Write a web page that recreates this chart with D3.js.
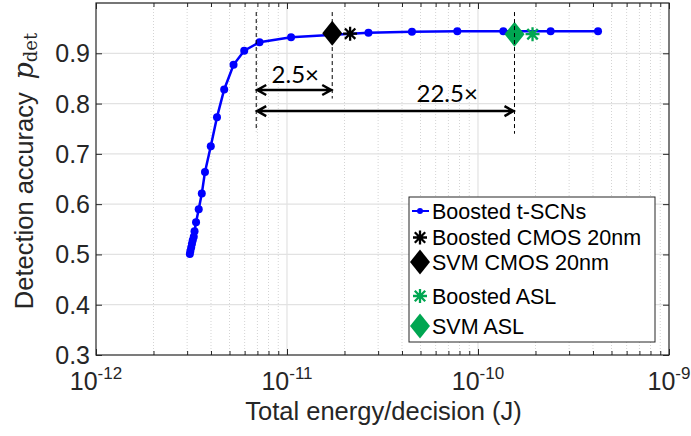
<!DOCTYPE html>
<html>
<head>
<meta charset="utf-8">
<script src="https://cdn.jsdelivr.net/npm/d3@7"></script>
<style>
  body { margin: 0; background: #fff; }
  svg text { font-family: "Liberation Sans", Arial, Helvetica, sans-serif; fill: #262626; }
</style>
</head>
<body>
<svg id="grafico" width="691" height="436"></svg>
<script>
// Curva Boosted t-SCNs: energia por decisão (J) e acurácia
const energiaTscn = [3.10e-12, 3.12e-12, 3.15e-12, 3.18e-12, 3.21e-12, 3.25e-12, 3.28e-12, 3.34e-12,
  3.45e-12, 3.58e-12, 3.72e-12, 3.99e-12, 4.30e-12, 4.69e-12, 5.25e-12, 5.97e-12, 7.18e-12,
  1.05e-11, 2.67e-11, 4.51e-11, 7.79e-11, 1.357e-10, 2.40e-10, 4.25e-10];
const acuraciaTscn = [0.501, 0.507, 0.514, 0.521, 0.528, 0.535, 0.546, 0.564,
  0.590, 0.621, 0.664, 0.715, 0.773, 0.828, 0.877, 0.905, 0.922,
  0.932, 0.941, 0.943, 0.944, 0.944, 0.944, 0.944];

// Pontos isolados (CMOS e ASL)
const nomesMarcadores = ["Boosted CMOS 20nm", "SVM CMOS 20nm", "Boosted ASL", "SVM ASL"];
const energiaMarcadores = [2.14e-11, 1.725e-11, 1.93e-10, 1.5525e-10];
const acuraciaMarcadores = [0.939, 0.940, 0.938, 0.938];

// Anotações de ganho
const energiaBase = 6.9e-12;
const fatoresGanho = [2.5, 22.5];
const rotulosGanho = ["2.5\u00d7", "22.5\u00d7"];
const acuraciaSetas = [0.827, 0.785];
const energiaRotulos = [1.105e-11, 6.9e-11];
const acuraciaRotulos = [0.841, 0.803];
const topoTracejado = 0.982;
const baseTracejado = [0.745, 0.81, 0.74];

// Eixos
const ticksY = [0.3, 0.4, 0.5, 0.6, 0.7, 0.8, 0.9];
const decadasX = [1e-12, 1e-11, 1e-10, 1e-9];
const expoentesX = ["-12", "-11", "-10", "-9"];

const esq = 96, dir = 669, topo = 3, base = 355;
const svg = d3.select("#grafico");

const x = d3.scaleLog().domain([1e-12, 1e-9]).range([esq, dir]);
const y = d3.scaleLinear().domain([0.3, 1.0]).range([base, topo]);

// ticks menores do eixo log
const menoresX = [];
decadasX.slice(0, -1).forEach(d => { for (let k = 2; k <= 9; k++) menoresX.push(d * k); });

// grade
const grade = svg.append("g");
grade.selectAll(".gmin").data(menoresX).join("line")
  .attr("x1", d => x(d)).attr("x2", d => x(d)).attr("y1", topo).attr("y2", base)
  .attr("stroke", "#d4d4d4").attr("stroke-width", 1).attr("stroke-dasharray", "1,2");
grade.selectAll(".gx").data(decadasX.slice(1, -1)).join("line")
  .attr("x1", d => x(d)).attr("x2", d => x(d)).attr("y1", topo).attr("y2", base)
  .attr("stroke", "#e2e2e2").attr("stroke-width", 1.2);
grade.selectAll(".gy").data(ticksY.slice(1).concat([1.0])).join("line")
  .attr("x1", esq).attr("x2", dir).attr("y1", d => y(d)).attr("y2", d => y(d))
  .attr("stroke", "#e2e2e2").attr("stroke-width", 1.2);

// eixos com ticks para dentro
svg.append("g").attr("transform", `translate(0,${base})`)
  .call(d3.axisBottom(x).tickValues(decadasX).tickSize(-6).tickFormat(""));
svg.append("g").attr("transform", `translate(0,${base})`)
  .call(d3.axisBottom(x).tickValues(menoresX).tickSize(-4).tickFormat(""));
svg.append("g").attr("transform", `translate(0,${topo})`)
  .call(d3.axisTop(x).tickValues(decadasX).tickSize(-6).tickFormat(""));
svg.append("g").attr("transform", `translate(0,${topo})`)
  .call(d3.axisTop(x).tickValues(menoresX).tickSize(-4).tickFormat(""));
svg.append("g").attr("transform", `translate(${esq},0)`)
  .call(d3.axisLeft(y).tickValues(ticksY).tickSize(-6).tickFormat(""));
svg.append("g").attr("transform", `translate(${dir},0)`)
  .call(d3.axisRight(y).tickValues(ticksY).tickSize(-6).tickFormat(""));
svg.selectAll(".domain").remove();
svg.selectAll(".tick line").attr("stroke", "#262626");

svg.append("rect").attr("x", esq).attr("y", topo)
  .attr("width", dir - esq).attr("height", base - topo)
  .attr("fill", "none").attr("stroke", "#262626").attr("stroke-width", 1.2);

// rótulos dos ticks
svg.selectAll(".ly").data(ticksY).join("text")
  .attr("x", esq - 6).attr("y", d => y(d)).attr("dy", "0.36em")
  .attr("text-anchor", "end").attr("font-size", 25)
  .text(d => d.toFixed(1));

const rotX = svg.selectAll(".lx").data(decadasX).join("text")
  .attr("x", d => x(d)).attr("y", 390).attr("text-anchor", "middle").attr("font-size", 25);
rotX.append("tspan").text("10");
rotX.append("tspan").attr("font-size", 17).attr("dy", -11).text((d, i) => expoentesX[i]);

svg.append("text").attr("x", (esq + dir) / 2 + 1).attr("y", 420)
  .attr("text-anchor", "middle").attr("font-size", 25.5)
  .text("Total energy/decision (J)");

const rotY = svg.append("text")
  .attr("transform", "translate(33,171) rotate(-90)")
  .attr("text-anchor", "middle").attr("font-size", 25.5);
rotY.append("tspan").text("Detection accuracy\u2002");
rotY.append("tspan").attr("font-family", "DejaVu Serif").attr("font-style", "italic").attr("font-size", 27).text("p");
rotY.append("tspan").attr("font-family", "DejaVu Serif").attr("font-size", 18).attr("dy", 4).text("det");

// formas dos marcadores
function diamante(g, cor) {
  g.append("path").attr("d", "M0,-12.5L10,0L0,12.5L-10,0Z").attr("fill", cor);
}
function asterisco(g, cor) {
  const r = 7, dd = 5.2;
  g.append("path")
    .attr("d", `M0,${-r}V${r}M${-r},0H${r}M${-dd},${-dd}L${dd},${dd}M${-dd},${dd}L${dd},${-dd}`)
    .attr("stroke", cor).attr("stroke-width", 2.3).attr("fill", "none");
}
const formas = [asterisco, diamante, asterisco, diamante];
const cores = ["#000000", "#000000", "#00a651", "#00a651"];

// curva t-SCNs
const pontos = energiaTscn.map((e, i) => [e, acuraciaTscn[i]]);
svg.append("path").datum(pontos)
  .attr("fill", "none").attr("stroke", "#0000ff").attr("stroke-width", 2.5)
  .attr("d", d3.line().x(d => x(d[0])).y(d => y(d[1])));
svg.selectAll(".pt").data(pontos).join("circle")
  .attr("cx", d => x(d[0])).attr("cy", d => y(d[1])).attr("r", 4).attr("fill", "#0000ff");

// marcadores CMOS / ASL
nomesMarcadores.forEach((n, i) => {
  const g = svg.append("g")
    .attr("transform", `translate(${x(energiaMarcadores[i])},${y(acuraciaMarcadores[i])})`);
  formas[i](g, cores[i]);
});

// linhas tracejadas
const energiasTracejado = [energiaBase].concat(fatoresGanho.map(f => energiaBase * f));
svg.selectAll(".tr").data(energiasTracejado).join("line")
  .attr("x1", d => x(d)).attr("x2", d => x(d))
  .attr("y1", y(topoTracejado)).attr("y2", (d, i) => y(baseTracejado[i]))
  .attr("stroke", "#000").attr("stroke-width", 1).attr("stroke-dasharray", "4,3");

// setas duplas
fatoresGanho.forEach((f, i) => {
  const x0 = x(energiaBase), x1 = x(energiaBase * f), yy = y(acuraciaSetas[i]);
  svg.append("path")
    .attr("d", `M${x0},${yy}H${x1}M${x0 + 10},${yy - 5}L${x0 + 1},${yy}L${x0 + 10},${yy + 5}` +
      `M${x1 - 10},${yy - 5}L${x1 - 1},${yy}L${x1 - 10},${yy + 5}`)
    .attr("fill", "none").attr("stroke", "#000").attr("stroke-width", 2.5);
  svg.append("text")
    .attr("x", x(energiaRotulos[i])).attr("y", y(acuraciaRotulos[i]))
    .attr("text-anchor", "middle").attr("font-size", 24)
    .style("font-family", "Lato, 'Open Sans', sans-serif").style("fill", "#000")
    .text(rotulosGanho[i]);
});

// legenda
const leg = svg.append("g");
leg.append("rect").attr("x", 409).attr("y", 197).attr("width", 246).attr("height", 145)
  .attr("fill", "#fff").attr("stroke", "#262626").attr("stroke-width", 1);
const linhasLeg = [211, 237.5, 262, 296, 326];
const nomesLeg = ["Boosted t-SCNs"].concat(nomesMarcadores);
nomesLeg.forEach((n, i) => {
  const g = leg.append("g").attr("transform", `translate(420,${linhasLeg[i]})`);
  if (i === 0) {
    g.append("line").attr("x1", -8).attr("x2", 9).attr("stroke", "#0000ff").attr("stroke-width", 2);
    g.append("circle").attr("r", 3).attr("fill", "#0000ff");
  } else {
    formas[i - 1](g, cores[i - 1]);
  }
  leg.append("text").attr("x", 432).attr("y", linhasLeg[i]).attr("dy", "0.36em")
    .attr("font-size", 21.5).style("fill", "#000").text(n);
});
</script>
</body>
</html>
